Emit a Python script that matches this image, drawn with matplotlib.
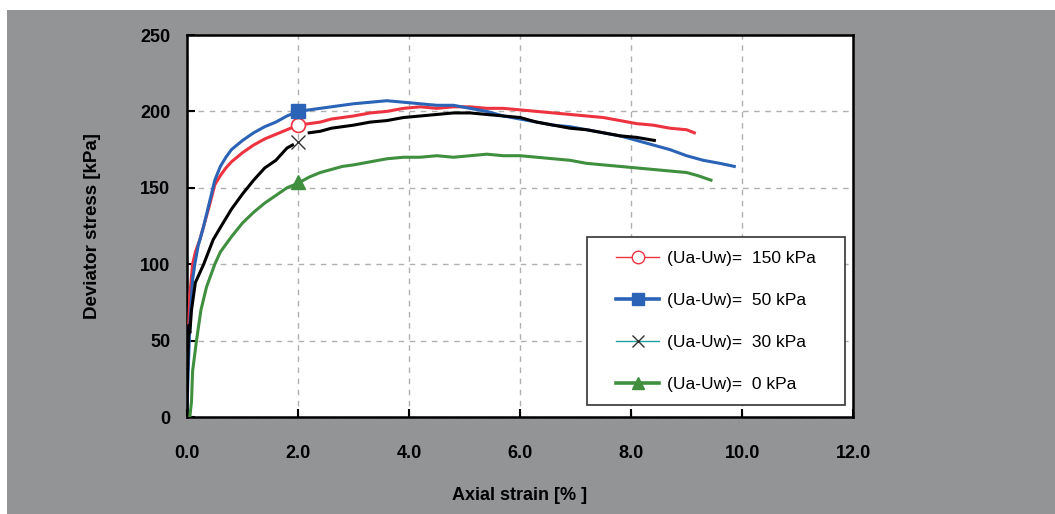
import matplotlib
matplotlib.use("Agg")
import matplotlib.pyplot as plt
from matplotlib.lines import Line2D
from matplotlib.patches import Rectangle
import numpy as np

plt.rcParams["font.family"] = ["Liberation Sans", "DejaVu Sans"]

# suction 150 kPa
strain_150 = [0, 0.02, 0.05, 0.1, 0.15, 0.23, 0.3, 0.4, 0.5, 0.6, 0.7, 0.8, 1.0, 1.2, 1.4,
              1.6, 1.8, 2.0, 2.2, 2.4, 2.6, 2.8, 3.0, 3.3, 3.6, 3.9, 4.2, 4.5, 4.8, 5.1,
              5.4, 5.7, 6.0, 6.3, 6.6, 6.9, 7.2, 7.5, 7.8, 8.1, 8.4, 8.7, 9.0, 9.14]
stress_150 = [15, 50, 80, 100, 108, 116, 125, 138, 152, 158, 163, 167, 173, 178, 182,
              185, 188, 191, 192, 193, 195, 196, 197, 199, 200, 202, 203, 202, 203, 203,
              202, 202, 201, 200, 199, 198, 197, 196, 194, 192, 191, 189, 188, 186]

# suction 50 kPa
strain_50 = [0, 0.02, 0.05, 0.1, 0.14, 0.2, 0.3, 0.4, 0.5, 0.6, 0.7, 0.8, 1.0, 1.2, 1.4,
             1.6, 1.8, 2.0, 2.2, 2.4, 2.6, 2.8, 3.0, 3.3, 3.6, 3.9, 4.2, 4.5, 4.8, 5.1,
             5.4, 5.7, 6.0, 6.3, 6.6, 6.9, 7.2, 7.5, 7.8, 8.1, 8.4, 8.7, 9.0, 9.3, 9.6, 9.86]
stress_50 = [5, 30, 60, 90, 100, 112, 125, 140, 155, 164, 170, 175, 181, 186, 190,
             193, 197, 200, 201, 202, 203, 204, 205, 206, 207, 206, 205, 204, 204, 202,
             200, 197, 195, 193, 191, 190, 188, 186, 184, 181, 178, 175, 171, 168, 166, 164]

# suction 30 kPa (gap around the marker at 2 %)
strain_30 = [0, 0.01, 0.03, 0.05, 0.08, 0.15, 0.3, 0.47, 0.6, 0.8, 1.0, 1.2, 1.4, 1.6,
             1.8, 1.9, np.nan, 2.2, 2.4, 2.6, 2.8, 3.0, 3.3, 3.6, 3.9, 4.2, 4.5, 4.8,
             5.1, 5.4, 5.7, 6.0, 6.3, 6.6, 6.9, 7.2, 7.5, 7.8, 8.1, 8.42]
stress_30 = [0, 30, 60, 55, 70, 88, 100, 116, 124, 136, 146, 155, 163, 168,
             176, 178, np.nan, 186, 187, 189, 190, 191, 193, 194, 196, 197, 198, 199,
             199, 198, 197, 196, 193, 191, 189, 188, 186, 184, 183, 181]

# suction 0 kPa
strain_0 = [0.05, 0.08, 0.1, 0.17, 0.25, 0.35, 0.5, 0.6, 0.8, 1.0, 1.2, 1.4, 1.6, 1.8,
            2.0, 2.2, 2.4, 2.6, 2.8, 3.0, 3.3, 3.6, 3.9, 4.2, 4.5, 4.8, 5.1, 5.4, 5.7,
            6.0, 6.3, 6.6, 6.9, 7.2, 7.5, 7.8, 8.1, 8.4, 8.7, 9.0, 9.2, 9.44]
stress_0 = [0, 10, 30, 50, 70, 85, 100, 108, 118, 127, 134, 140, 145, 150,
            153, 157, 160, 162, 164, 165, 167, 169, 170, 170, 171, 170, 171, 172, 171,
            171, 170, 169, 168, 166, 165, 164, 163, 162, 161, 160, 158, 155]

# marker points at 2 % strain
marker_strain = 2.0
marker_stress = {"150": 191, "50": 200, "30": 180, "0": 154}

labels = ["(Ua-Uw)=  150 kPa", "(Ua-Uw)=  50 kPa", "(Ua-Uw)=  30 kPa", "(Ua-Uw)=  0 kPa"]

RED = "#ee3340"
BLUE = "#2b63b6"
GREEN = "#3f8f3f"
TEAL = "#1fa0a0"
GRAY = "#939496"

fig = plt.figure(figsize=(10.55, 5.14), dpi=100)
fig.patch.set_facecolor("white")
fig.patches.append(Rectangle((7 / 1055, 0), 1, 504 / 514, transform=fig.transFigure,
                             facecolor=GRAY, edgecolor="none", zorder=-10))

ax = fig.add_axes([0.1773, 0.1887, 0.6313, 0.7432])
ax.set_facecolor("white")

lw = 2.2
ax.plot(strain_150, stress_150, color=RED, lw=lw, zorder=3)
ax.plot(strain_50, stress_50, color=BLUE, lw=lw, zorder=3)
ax.plot(strain_30, stress_30, color="black", lw=lw, zorder=3)
ax.plot(strain_0, stress_0, color=GREEN, lw=lw, zorder=3)

ax.plot(marker_strain, marker_stress["150"], "o", ms=10, mfc="white", mec=RED, mew=1.2, zorder=4)
ax.plot(marker_strain, marker_stress["50"], "s", ms=10.5, color=BLUE, zorder=4)
ax.plot(marker_strain, marker_stress["30"], "x", ms=10, color="#333333", mew=1.0, zorder=4)
ax.plot(marker_strain, marker_stress["0"], "^", ms=10.5, color=GREEN, zorder=4)

ax.set_xlim(0, 12)
ax.set_ylim(0, 250)
ax.set_xticks(np.arange(0, 13, 2))
ax.set_xticklabels([f"{v:.1f}" for v in np.arange(0, 13, 2)])
ax.set_yticks(np.arange(0, 251, 50))
ax.grid(True, color="#b0b0b0", ls=(0, (4, 4)), lw=1.0)
ax.set_axisbelow(True)

for side in ax.spines.values():
    side.set_linewidth(1.8)
    side.set_color("black")

ax.tick_params(direction="in", length=6, width=1.5, labelsize=13)
ax.tick_params(axis="x", pad=20)
ax.tick_params(axis="y", pad=12)
for t in ax.get_xticklabels() + ax.get_yticklabels():
    t.set_fontweight("bold")

ax.set_xlabel("Axial strain [% ]", fontsize=13, fontweight="bold", labelpad=18)
ax.set_ylabel("Deviator stress [kPa]", fontsize=13.5, fontweight="bold", labelpad=28)

# legend box drawn separately so its padding can match the reference
ax.add_patch(Rectangle((0.60, 0.031), 0.388, 0.44, transform=ax.transAxes,
                       facecolor="white", edgecolor="#333333", lw=1.2, zorder=5))
handles = [
    Line2D([], [], color=RED, lw=1.0, marker="o", ms=9, mfc="white", mec=RED),
    Line2D([], [], color=BLUE, lw=2.6, marker="s", ms=9),
    Line2D([], [], color=TEAL, lw=1.0, marker="x", ms=9, mec="#333333"),
    Line2D([], [], color=GREEN, lw=2.6, marker="^", ms=9),
]
leg = ax.legend(handles, labels, loc="center", bbox_to_anchor=(0.794, 0.251),
                fontsize=12.5, frameon=False, labelspacing=1.55, borderpad=0,
                handlelength=2.5, handletextpad=0.45, borderaxespad=0)
leg.set_zorder(6)

fig.savefig("out.png", dpi=100)
